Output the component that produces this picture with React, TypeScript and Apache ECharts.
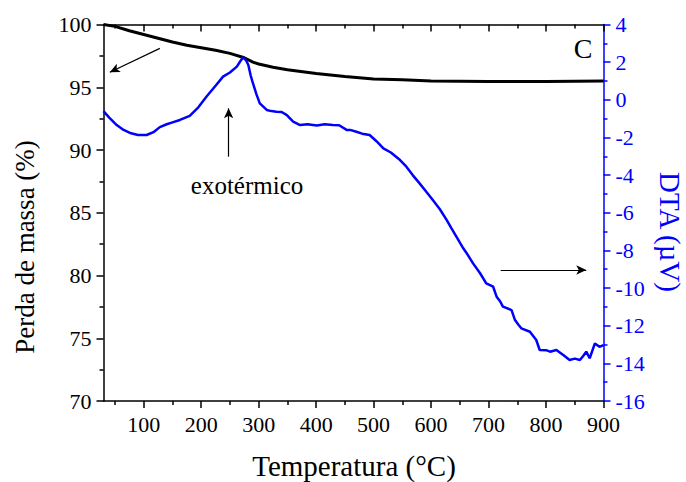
import React, { useEffect, useRef } from "react";
import * as echarts from "echarts";

const massTemp = [30, 50, 75, 100, 125, 150, 175, 200, 225, 250, 275, 290, 300, 325, 350, 400, 450, 500, 550, 600, 700, 800, 900];
const massValue = [100.0, 99.85, 99.5, 99.2, 98.9, 98.6, 98.35, 98.15, 97.95, 97.7, 97.35, 97.0, 96.85, 96.6, 96.4, 96.1, 95.85, 95.65, 95.6, 95.5, 95.45, 95.45, 95.5];

const dtaTemp = [30, 40, 53, 65, 78, 90, 105, 118, 128, 140, 150, 163, 180, 195, 209, 225, 238, 250, 262, 268, 273, 278, 282, 286, 290, 296, 302, 314, 322, 331, 340, 349, 360, 372, 385, 401, 415, 429, 440, 453, 459, 470, 480, 493, 505, 517, 530, 546, 557, 568, 580, 592, 603, 615, 627, 635, 644, 656, 662, 673, 685, 696, 708, 714, 720, 725, 740, 746, 752, 757, 772, 783, 789, 800, 807, 818, 830, 841, 850, 859, 865, 870, 876, 885, 893, 900];
const dtaValue = [-0.6, -0.95, -1.34, -1.6, -1.78, -1.87, -1.87, -1.7, -1.45, -1.3, -1.2, -1.07, -0.85, -0.4, 0.16, 0.75, 1.23, 1.45, 1.76, 2.05, 2.26, 2.1, 1.85, 1.3, 0.88, 0.3, -0.19, -0.54, -0.6, -0.63, -0.65, -0.81, -1.16, -1.34, -1.3, -1.36, -1.3, -1.34, -1.35, -1.6, -1.6, -1.7, -1.8, -1.87, -2.2, -2.58, -2.8, -3.2, -3.55, -4.0, -4.44, -4.9, -5.32, -5.8, -6.38, -6.8, -7.27, -7.89, -8.15, -8.69, -9.2, -9.75, -9.93, -10.46, -10.7, -10.99, -11.17, -11.7, -11.95, -12.14, -12.32, -12.76, -13.29, -13.3, -13.38, -13.29, -13.56, -13.82, -13.75, -13.82, -13.6, -13.38, -13.73, -12.94, -13.12, -13.03];

const xMajor = [100, 200, 300, 400, 500, 600, 700, 800, 900];
const xMinor = [50, 150, 250, 350, 450, 550, 650, 750, 850];

const FONT = "'Liberation Serif', 'Times New Roman', serif";
const BLUE = "#0000ff";

export default function App() {
  const ref = useRef<HTMLDivElement>(null);
  useEffect(() => {
    document.body.style.margin = "0";
    const chart = echarts.init(ref.current!, null, { renderer: "svg" });
    const axisLine = { show: true, onZero: false, lineStyle: { color: "#000", width: 1.5 } };
    const mkX = (pos: string, values: number[], len: number, inside: boolean, labels: boolean, line: boolean) => ({
      type: "value",
      min: 30,
      max: 900,
      position: pos,
      axisLine: line ? axisLine : { show: false, onZero: false },
      axisTick: { show: true, inside, length: len, customValues: values, lineStyle: { color: "#000", width: 1.5 } },
      axisLabel: labels
        ? { show: true, customValues: values, fontSize: 22, fontFamily: FONT, color: "#000", margin: 12 }
        : { show: false },
      splitLine: { show: false },
    });
    chart.setOption({
      animation: false,
      grid: { left: 103.5, right: 82.5, top: 24.5, bottom: 81 },
      xAxis: [
        mkX("bottom", xMajor, 7, false, true, true),
        mkX("bottom", xMinor, 4, false, false, false),
        mkX("top", xMajor, 7, true, false, true),
        mkX("top", xMinor, 4, true, false, false),
      ],
      yAxis: [
        {
          type: "value",
          min: 70,
          max: 100,
          interval: 5,
          position: "left",
          axisLine,
          axisTick: { show: true, length: 7, lineStyle: { color: "#000", width: 1.5 } },
          minorTick: { show: true, splitNumber: 2, length: 4, lineStyle: { color: "#000", width: 1.5 } },
          axisLabel: { fontSize: 22, fontFamily: FONT, color: "#000", margin: 12 },
          splitLine: { show: false },
        },
        {
          type: "value",
          min: -16,
          max: 4,
          interval: 2,
          position: "right",
          axisLine: { show: true, onZero: false, lineStyle: { color: BLUE, width: 1.5 } },
          axisTick: { show: true, length: 7, lineStyle: { color: BLUE, width: 1.5 } },
          minorTick: { show: true, splitNumber: 2, length: 4, lineStyle: { color: BLUE, width: 1.5 } },
          axisLabel: { fontSize: 22, fontFamily: FONT, color: BLUE, margin: 12 },
          splitLine: { show: false },
        },
      ],
      series: [
        {
          type: "line",
          xAxisIndex: 0,
          yAxisIndex: 0,
          data: massTemp.map((t, i) => [t, massValue[i]]),
          showSymbol: false,
          lineStyle: { color: "#000", width: 3 },
          markLine: {
            silent: true,
            symbol: ["none", "arrow"],
            symbolSize: [7, 10],
            label: { show: false },
            lineStyle: { color: "#000", width: 1.2, type: "solid" },
            data: [
              [{ coord: [128, 98.1] }, { coord: [41, 96.2] }],
              [{ coord: [247.7, 89.47] }, { coord: [247.7, 93.32] }],
            ],
          },
        },
        {
          type: "line",
          xAxisIndex: 0,
          yAxisIndex: 1,
          data: dtaTemp.map((t, i) => [t, dtaValue[i]]),
          showSymbol: false,
          lineStyle: { color: BLUE, width: 2.5 },
          markLine: {
            silent: true,
            symbol: ["none", "arrow"],
            symbolSize: [7, 10],
            label: { show: false },
            lineStyle: { color: "#000", width: 1.2, type: "solid" },
            data: [[{ coord: [721, -9.04] }, { coord: [870, -9.04] }]],
          },
        },
      ],
      graphic: [
        {
          type: "text",
          x: 354,
          y: 466,
          style: { text: "Temperatura (°C)", fontSize: 29, fontFamily: FONT, fill: "#000", align: "center", verticalAlign: "middle", textAlign: "center", textVerticalAlign: "middle" },
        },
        {
          type: "text",
          x: 25,
          y: 247,
          rotation: Math.PI / 2,
          style: { text: "Perda de massa (%)", fontSize: 27, fontFamily: FONT, fill: "#000", align: "center", verticalAlign: "middle", textAlign: "center", textVerticalAlign: "middle" },
        },
        {
          type: "text",
          x: 670,
          y: 232,
          rotation: -Math.PI / 2,
          style: { text: "DTA (µV)", fontSize: 29, fontFamily: FONT, fill: BLUE, align: "center", verticalAlign: "middle", textAlign: "center", textVerticalAlign: "middle" },
        },
        {
          type: "text",
          x: 247,
          y: 185,
          style: { text: "exotérmico", fontSize: 25, fontFamily: FONT, fill: "#000", align: "center", verticalAlign: "middle", textAlign: "center", textVerticalAlign: "middle" },
        },
        {
          type: "text",
          x: 583,
          y: 48,
          style: { text: "C", fontSize: 28, fontFamily: FONT, fill: "#000", align: "center", verticalAlign: "middle", textAlign: "center", textVerticalAlign: "middle" },
        },
      ],
    });
    return () => chart.dispose();
  }, []);
  return <div ref={ref} style={{ width: 686, height: 482 }} />;
}
